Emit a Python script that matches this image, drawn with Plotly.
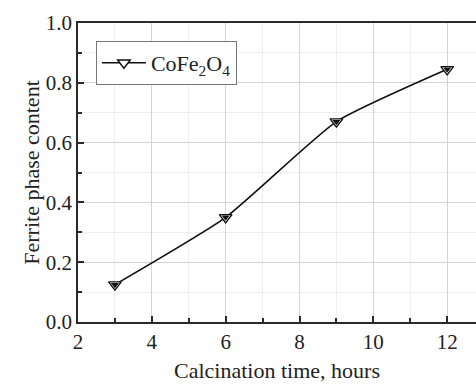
import plotly.graph_objects as go

# Calcination time (hours) and measured ferrite phase fraction
calcination_hours = [3, 6, 9, 12]
ferrite_content = [0.125, 0.35, 0.67, 0.845]
series_name = "CoFe<sub>2</sub>O<sub>4</sub>"

x_ticks = [2, 4, 6, 8, 10, 12]
y_ticks = [0.0, 0.2, 0.4, 0.6, 0.8, 1.0]
y_tick_text = ["0.0", "0.2", "0.4", "0.6", "0.8", "1.0"]

serif = "Liberation Serif, Times New Roman, Times, serif"
axis_color = "#2a2a2a"
text_color = "#222222"

fig = go.Figure()

fig.add_trace(go.Scatter(
    x=calcination_hours,
    y=ferrite_content,
    mode="lines+markers",
    name=series_name,
    line=dict(color="#111111", width=1.6, shape="spline", smoothing=0.5),
    marker=dict(symbol="triangle-down", size=11, color="white",
                line=dict(color="#111111", width=1.4)),
    showlegend=True,
))
# dark core of the half-filled markers
fig.add_trace(go.Scatter(
    x=calcination_hours,
    y=ferrite_content,
    mode="markers",
    marker=dict(symbol="triangle-down", size=7, color="#111111",
                line=dict(width=0)),
    showlegend=False,
    hoverinfo="skip",
))

fig.update_layout(
    width=476,
    height=387,
    margin=dict(l=78, r=0, t=23, b=65),
    paper_bgcolor="white",
    plot_bgcolor="white",
    font=dict(family=serif, size=20, color=text_color),
    showlegend=True,
    legend=dict(
        x=0.045, y=0.94, xanchor="left", yanchor="top",
        bgcolor="white", bordercolor="#777777", borderwidth=1,
        font=dict(family=serif, size=22, color=text_color),
        itemwidth=44,
        tracegroupgap=0,
    ),
)

fig.update_xaxes(
    range=[2, 12.78],
    tickvals=x_ticks,
    ticks="inside", ticklen=6, tickwidth=1.5, tickcolor=axis_color,
    showline=True, linecolor=axis_color, linewidth=1.5, mirror=True,
    showgrid=True, gridcolor="#d4d4d4", gridwidth=1,
    minor=dict(dtick=1, ticks="inside", ticklen=4, tickcolor=axis_color,
               showgrid=True, gridcolor="#eeeeee", gridwidth=1),
    zeroline=False,
    tickfont=dict(family=serif, size=21, color=text_color),
    title=dict(text="Calcination time, hours", standoff=10,
               font=dict(family=serif, size=22, color=text_color)),
)
fig.update_yaxes(
    range=[0, 1.0],
    tickvals=y_ticks, ticktext=y_tick_text,
    ticks="inside", ticklen=6, tickwidth=1.5, tickcolor=axis_color,
    showline=True, linecolor=axis_color, linewidth=1.5, mirror=False,
    showgrid=True, gridcolor="#d4d4d4", gridwidth=1,
    minor=dict(dtick=0.1, ticks="inside", ticklen=4, tickcolor=axis_color,
               showgrid=True, gridcolor="#eeeeee", gridwidth=1),
    zeroline=False,
    tickfont=dict(family=serif, size=21, color=text_color),
    title=dict(text="Ferrite phase content", standoff=0,
               font=dict(family=serif, size=22, color=text_color)),
)

fig.write_html("out.html")
